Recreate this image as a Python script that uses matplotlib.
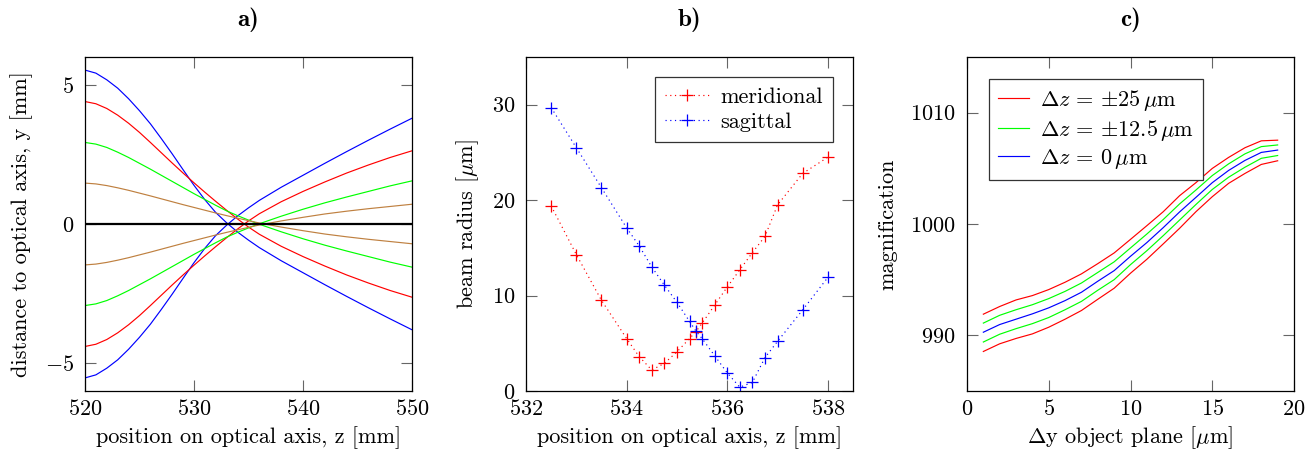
import numpy as np
import matplotlib
matplotlib.use("Agg")
import matplotlib.pyplot as plt

plt.rcParams['font.family'] = ['cmr10', 'DejaVu Serif']
plt.rcParams['mathtext.fontset'] = 'cm'
plt.rcParams['axes.formatter.use_mathtext'] = True
plt.rcParams['font.size'] = 16

# --- a) ray paths (upper rays; the lower rays are their mirror image)
z_ray = [520, 521, 522, 523, 524, 525, 526, 527, 528, 529, 530, 531, 532, 533, 534, 535, 536,
         538, 540, 542, 544, 546, 548, 550]
blue_ray = [5.53, 5.42, 5.18, 4.88, 4.50, 4.07, 3.60, 3.07, 2.52, 1.95, 1.39, 0.87, 0.41, 0.04,
            -0.29, -0.58, -0.85, -1.32, -1.75, -2.18, -2.60, -3.01, -3.41, -3.80]
red_ray = [4.40, 4.32, 4.15, 3.91, 3.62, 3.29, 2.93, 2.56, 2.19, 1.83, 1.48, 1.14, 0.81, 0.49,
           0.18, -0.11, -0.37, -0.80, -1.17, -1.51, -1.83, -2.12, -2.39, -2.63]
green_ray = [2.93, 2.87, 2.75, 2.58, 2.39, 2.18, 1.97, 1.75, 1.53, 1.31, 1.09, 0.88, 0.67, 0.47,
             0.30, 0.14, -0.01, -0.28, -0.53, -0.76, -0.97, -1.17, -1.37, -1.55]
brown_ray = [1.47, 1.44, 1.38, 1.30, 1.21, 1.11, 1.01, 0.905, 0.80, 0.695, 0.595, 0.495, 0.395,
             0.30, 0.21, 0.12, 0.035, -0.11, -0.24, -0.36, -0.46, -0.55, -0.63, -0.71]

# --- b) beam radius
z_mer = [532.5, 533.0, 533.5, 534.0, 534.25, 534.5, 534.75, 535.0, 535.25, 535.375, 535.5,
         535.75, 536.0, 536.25, 536.5, 536.75, 537.0, 537.5, 538.0]
r_mer = [19.4, 14.3, 9.5, 5.5, 3.6, 2.2, 2.9, 4.1, 5.5, 6.2, 7.1,
         9.0, 10.9, 12.7, 14.5, 16.2, 19.5, 22.8, 24.5]
z_sag = z_mer
r_sag = [29.7, 25.5, 21.3, 17.1, 15.2, 13.0, 11.1, 9.3, 7.3, 6.3, 5.5,
         3.7, 1.9, 0.4, 0.9, 3.5, 5.2, 8.5, 11.9]

# --- c) magnification
dy = [1, 2, 3, 4, 5, 6, 7, 8, 9, 10, 11, 12, 13, 14, 15, 16, 17, 18, 19]
mag_p25 = [991.9, 992.59, 993.18, 993.57, 994.11, 994.77, 995.52, 996.44, 997.4, 998.62,
           999.85, 1001.1, 1002.54, 1003.71, 1004.99, 1005.98, 1006.85, 1007.47, 1007.53]
mag_p12 = [991.1, 991.8, 992.3, 992.75, 993.3, 993.95, 994.7, 995.65, 996.6, 997.85,
           999.1, 1000.4, 1001.8, 1003.05, 1004.35, 1005.4, 1006.3, 1006.95, 1007.1]
mag_0 = [990.28, 990.97, 991.45, 991.93, 992.47, 993.12, 993.87, 994.86, 995.81, 997.1,
         998.33, 999.67, 1001.08, 1002.39, 1003.71, 1004.81, 1005.71, 1006.43, 1006.64]
mag_m12 = [989.4, 990.1, 990.6, 991.05, 991.6, 992.3, 993.05, 994.05, 995.0, 996.35,
           997.6, 998.95, 1000.35, 1001.75, 1003.1, 1004.2, 1005.1, 1005.9, 1006.15]
mag_m25 = [988.55, 989.24, 989.72, 990.13, 990.73, 991.45, 992.23, 993.24, 994.23, 995.58,
           996.83, 998.21, 999.61, 1001.1, 1002.45, 1003.65, 1004.54, 1005.35, 1005.68]

W, H = 1315, 454
fig = plt.figure(figsize=(W / 100, H / 100), dpi=100)
TOP, BOT = 57, 391

def make_axes(left, right):
    ax = fig.add_axes([left / W, 1 - BOT / H, (right - left) / W, (BOT - TOP) / H])
    ax.tick_params(direction='in', top=True, right=True, length=8, width=0.8,
                   color='#666666')
    ax.tick_params(axis='x', pad=6)
    ax.tick_params(axis='y', pad=8)
    for s in ax.spines.values():
        s.set_linewidth(0.9)
    return ax

def place_labels(ax, left, right, ylab_x, title):
    ax.xaxis.label.set_verticalalignment('center')
    ax.xaxis.set_label_coords(0.5, (BOT - 438) / (BOT - TOP))
    ax.yaxis.label.set_verticalalignment('center')
    ax.yaxis.set_label_coords((ylab_x - left) / (right - left), 0.5)
    fig.text((left + right) / 2 / W, 1 - 20 / H, title, ha='center', va='center',
             fontfamily='cmb10', fontsize=18)

lw = 0.85

# a)
ax1 = make_axes(85, 412)
for vals, c in [(blue_ray, '#0000ff'), (red_ray, '#ff0000'), (green_ray, '#00ff00'), (brown_ray, '#bf8040')]:
    ax1.plot(z_ray, vals, color=c, lw=lw)
    ax1.plot(z_ray, -np.array(vals), color=c, lw=lw)
ax1.plot([z_ray[0], z_ray[-1]], [0, 0], color='black', lw=1.6)
ax1.set_xlim(520, 550)
ax1.set_ylim(-6, 6)
ax1.set_xticks([520, 530, 540, 550])
ax1.set_yticks([-5, 0, 5])
ax1.set_xlabel('position on optical axis, z [mm]')
ax1.set_ylabel('distance to optical axis, y [mm]')
place_labels(ax1, 85, 412, 22, 'a)')

# b)
ax2 = make_axes(526, 853)
ax2.plot(z_mer, r_mer, color='#ff0000', lw=lw, ls=(0, (1, 3)), marker='+', ms=9, mew=0.9,
         label='meridional')
ax2.plot(z_sag, r_sag, color='#0000ff', lw=lw, ls=(0, (1, 3)), marker='+', ms=9, mew=0.9,
         label='sagittal')
ax2.set_xlim(532, 538.5)
ax2.set_ylim(0, 35)
ax2.set_xticks([532, 534, 536, 538])
ax2.set_yticks([0, 10, 20, 30])
ax2.set_xlabel('position on optical axis, z [mm]')
ax2.set_ylabel(r'beam radius [$\mu$m]')
place_labels(ax2, 526, 853, 468, 'b)')
leg2 = ax2.legend(loc='upper right', fancybox=False, edgecolor='#333333', framealpha=1,
                  handlelength=2.0, labelspacing=0.25, borderaxespad=0.9, handletextpad=0.5,
                  borderpad=0.45)
leg2.get_frame().set_linewidth(0.9)

# c)
ax3 = make_axes(967, 1294)
ax3.plot(dy, mag_p25, color='#ff0000', lw=lw, label=r'$\Delta z\,=\,{\pm}25\,\mu$m')
ax3.plot(dy, mag_p12, color='#00ff00', lw=lw, label=r'$\Delta z\,=\,{\pm}12.5\,\mu$m')
ax3.plot(dy, mag_0, color='#0000ff', lw=lw, label=r'$\Delta z\,=\,0\,\mu$m')
ax3.plot(dy, mag_m12, color='#00ff00', lw=lw)
ax3.plot(dy, mag_m25, color='#ff0000', lw=lw)
ax3.set_xlim(0, 20)
ax3.set_ylim(985, 1015)
ax3.set_xticks([0, 5, 10, 15, 20])
ax3.set_yticks([990, 1000, 1010])
ax3.set_xlabel(r'$\Delta$y object plane [$\mu$m]')
ax3.set_ylabel('magnification')
place_labels(ax3, 967, 1294, 888, 'c)')
leg3 = ax3.legend(loc='upper left', fancybox=False, edgecolor='#333333', framealpha=1,
                  handlelength=1.4, labelspacing=0.2, borderaxespad=1.0, handletextpad=0.5,
                  borderpad=0.4)
leg3.get_frame().set_linewidth(0.9)

fig.savefig('out.png', dpi=100)
